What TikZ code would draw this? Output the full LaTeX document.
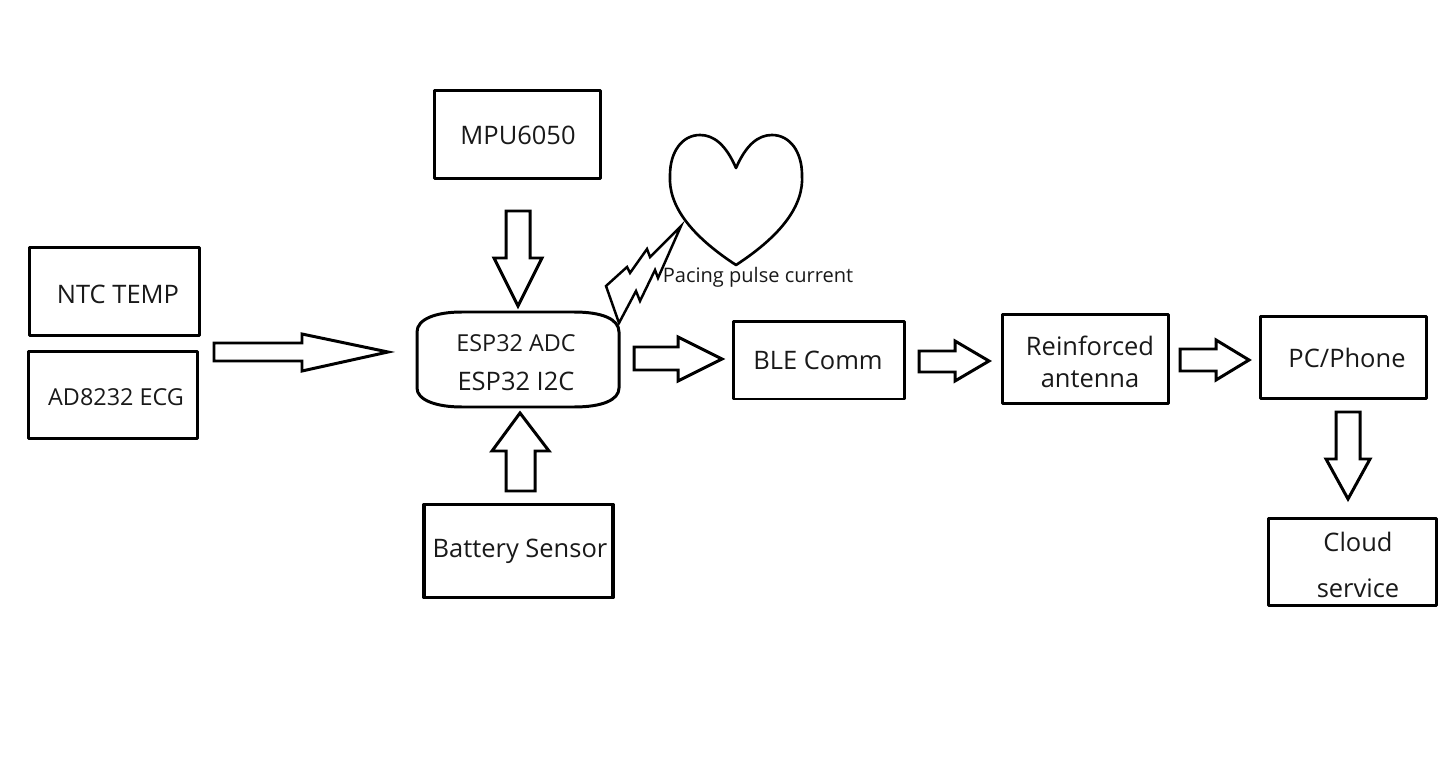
\documentclass[tikz,border=0pt]{standalone}
\usepackage{fontspec}
\setmainfont{Open Sans}
\tikzset{
	blockbox/.style={draw,line width=1.7pt,inner sep=0pt},
	thickbox/.style={blockbox,line width=2.1pt},
	blockarrow/.style={draw,line width=1.7pt,line join=miter},
	bigtext/.style={font=\fontsize{14.5}{17}\selectfont,inner sep=0pt,text=black!90},
	midtext/.style={font=\fontsize{13.3}{16}\selectfont,inner sep=0pt,text=black!90},
	smalltext/.style={font=\fontsize{11.4}{14}\selectfont,inner sep=0pt,text=black!90},
}
\begin{document}
\begin{tikzpicture}[x=0.02cm,y=-0.02cm,line join=round]
	\useasboundingbox (0,0) rectangle (1442,763);
	% boxes
	\node[blockbox,minimum width=3.32cm,minimum height=1.76cm] (mpu) at (517.5,134.5) {};
	\node[blockbox,minimum width=3.40cm,minimum height=1.76cm] (ntc) at (114.5,291.5) {};
	\node[blockbox,minimum width=3.38cm,minimum height=1.74cm] (ecg) at (113,395) {};
	\node[thickbox,minimum width=3.78cm,minimum height=1.86cm] (bat) at (518.5,551) {};
	\node[blockbox,minimum width=3.42cm,minimum height=1.56cm] (ble) at (819,360) {};
	\node[thickbox,minimum width=3.32cm,minimum height=1.78cm] (ant) at (1085.5,359) {};
	\node[blockbox,minimum width=3.32cm,minimum height=1.64cm] (pc) at (1343.5,357.5) {};
	\node[blockbox,minimum width=3.36cm,minimum height=1.74cm] (cloud) at (1352.5,562) {};
	% esp32 outline
	\draw[line width=1.7pt] (417,332) .. controls (417,319) and (436,312) .. (462,312) -- (574,312) .. controls (602,312) and (619,319) .. (619,332) -- (619,388) .. controls (619,400) and (602,407) .. (574,407) -- (462,407) .. controls (436,407) and (417,400) .. (417,388) -- cycle;
	% texts
	\node[bigtext] (mputxt) at (518,135) {MPU6050};
	\node[bigtext] (ntctxt) at (118,294) {NTC TEMP};
	\node[midtext] (ecgtxt) at (116,397) {AD8232 ECG};
	\node[midtext] (adctxt) at (516,343) {ESP32 ADC};
	\node[bigtext] (i2ctxt) at (516,381) {ESP32 I2C};
	\node[bigtext] (battxt) at (520,551) {Battery Sensor};
	\node[bigtext] (bletxt) at (818,360) {BLE Comm};
	\node[bigtext] (reitxt) at (1090,346) {Reinforced};
	\node[bigtext] (anttxt) at (1090,379) {antenna};
	\node[bigtext] (pctxt) at (1347,358) {PC/Phone};
	\node[bigtext] (cldtxt) at (1358,542) {Cloud};
	\node[bigtext] (svctxt) at (1358,588) {service};
	\node[smalltext] (pcgtxt) at (758,277) {Pacing pulse current};
	% block arrows
	\draw[blockarrow] (214,343)--(302,343)--(302,334)--(388,352)--(302,371)--(302,361)--(214,361)--cycle;
	\draw[blockarrow] (506,211)--(530,211)--(530,258)--(542,258)--(518,306)--(494,258)--(506,258)--cycle;
	\draw[blockarrow] (506,491)--(535,491)--(535,451)--(549,451)--(520,413)--(492,451)--(506,451)--cycle;
	\draw[blockarrow] (634,347)--(678,347)--(678,337)--(722,359)--(678,381)--(678,370)--(634,370)--cycle;
	\draw[blockarrow] (919,351)--(955,351)--(955,341)--(989,361)--(955,381)--(955,372)--(919,372)--cycle;
	\draw[blockarrow] (1180,349)--(1216,349)--(1216,340)--(1249,360)--(1216,380)--(1216,371)--(1180,371)--cycle;
	\draw[blockarrow] (1336,412)--(1360,412)--(1360,459)--(1370,459)--(1348,499)--(1326,459)--(1336,459)--cycle;
	% heart and pulse
	\draw[line width=1.5pt] (736,168) .. controls (726,145) and (714,135) .. (700,135) .. controls (682,135) and (670,152) .. (670,175) .. controls (668,205) and (690,235) .. (736,265) .. controls (782,235) and (804,205) .. (802,175) .. controls (802,152) and (790,135) .. (772,135) .. controls (758,135) and (746,145) .. (736,168) -- cycle;
	\draw[line width=1.4pt,line join=miter] (681,226)--(650,257)--(647,249)--(630,273)--(627,267)--(606,286)--(619,323)--(636,291)--(640,301)--(655,270)--(658,278)--cycle;
\end{tikzpicture}
\end{document}
